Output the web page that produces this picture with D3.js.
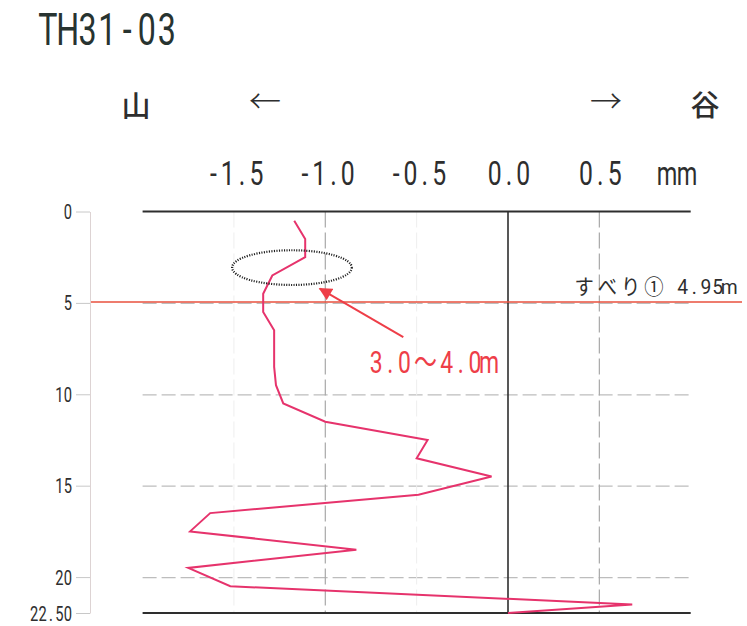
<!DOCTYPE html>
<html>
<head>
<meta charset="utf-8">
<script src="https://cdn.jsdelivr.net/npm/d3@7"></script>
<style>
  html, body { margin: 0; padding: 0; background: #fff; }
  svg { display: block; }
</style>
</head>
<body>
<svg id="chart" width="747" height="626"></svg>
<script>
// Borehole inclinometer: cumulative displacement (mm) versus depth (m)
const title = "TH31-03";
const depths = [0.5, 1.5, 2.5, 3.5, 4.5, 5.5, 6.5, 7.5, 8.5, 9.5, 10.5, 11.5,
                12.5, 13.5, 14.5, 15.5, 16.5, 17.5, 18.5, 19.5, 20.5, 21.5, 22.5];
const displacement = [-1.17, -1.11, -1.11, -1.29, -1.34, -1.34, -1.28, -1.28, -1.28, -1.27, -1.23, -1.00,
                      -0.44, -0.50, -0.09, -0.49, -1.63, -1.74, -0.83, -1.75, -1.52, 0.68, 0.00];
const xTicks = [-1.5, -1.0, -0.5, 0.0, 0.5];
const xTickLabels = ["-1.5", "-1.0", "-0.5", "0.0", "0.5"];
const xUnit = "mm";
const yTicks = [0, 5, 10, 15, 20, 22.5];
const yTickLabels = ["0", "5", "10", "15", "20", "22.50"];
const hGrid = [5, 10, 15, 20];
const vGridMain = [-1.0, 0.5];
const vGridFaint = [-1.5, -0.5];
const slipDepth = 4.95;
const slipLabel = "すべり① 4.95m";
const zoneLabel = "3.0～4.0m";
const zoneValue = [-1.51, -0.855];   // horizontal extent of the marked zone (mm)
const zoneDepth = [2.12, 4.02];      // vertical extent of the marked zone (m)
const sideLabels = ["山", "←", "→", "谷"];

const svg = d3.select("#chart");
svg.append("rect").attr("width", 747).attr("height", 626).attr("fill", "#fff");

const x = d3.scaleLinear().domain([-2, 1]).range([142.6, 690.7]);
const y = d3.scaleLinear().domain([0, 21.5, 22.5]).range([211.5, 604.5, 613]);

const SANS = "Roboto, 'Liberation Sans', 'Noto Sans CJK JP', sans-serif";
const CJK = "'Noto Sans CJK JP', 'Noto Sans', sans-serif";
const ink = "#2e2e2e";

// Fixed-pitch text: every character is centred in its own cell (full-width glyphs
// take two cells), with glyphs narrowed horizontally by sx for a condensed look.
function gridText(parent, str, o) {
  const sx = o.sx || 1;
  const chars = Array.from(str);
  const widths = chars.map(c => (c.codePointAt(0) > 0x2000 ? 2 : 1) * o.cell);
  const total = d3.sum(widths);
  const x0 = o.anchor === "middle" ? o.x - total / 2 : o.anchor === "end" ? o.x - total : o.x;
  let acc = 0;
  const xs = widths.map(w => { const c = acc + w / 2; acc += w; return (c / sx).toFixed(2); });
  return parent.append("text")
    .attr("transform", `translate(${x0},${o.y}) scale(${sx},1)`)
    .attr("x", xs.join(" ")).attr("y", 0)
    .attr("text-anchor", "middle")
    .attr("font-family", o.family || SANS).attr("font-size", o.size)
    .attr("font-weight", o.weight || 400)
    .attr("fill", o.fill || ink).text(str);
}

// title
gridText(svg, title, { x: 38, y: 45, cell: 19.8, size: 43.5, sx: 0.74, fill: "#273330" });

// direction labels
const sideX = [136, 265, 606, 705];
const sideY = [117, 113, 113, 116];
svg.append("g").selectAll("text").data(sideLabels).join("text")
  .attr("x", (d, i) => sideX[i]).attr("y", (d, i) => sideY[i])
  .attr("text-anchor", "middle")
  .attr("font-family", CJK)
  .attr("font-size", (d, i) => (i === 0 || i === 3) ? 29 : 32)
  .attr("font-weight", (d, i) => (i === 0 || i === 3) ? 500 : 300)
  .attr("fill", ink)
  .text(d => d);

// top value labels
const topLabels = svg.append("g");
xTicks.forEach((v, i) => gridText(topLabels, xTickLabels[i],
  { x: x(v) + 1, y: 185, cell: 14.3, size: 33.5, sx: 0.74, anchor: "middle" }));
gridText(topLabels, xUnit, { x: 657, y: 185, cell: 20, size: 33.5, sx: 0.7 });

// grid
const grid = svg.append("g");
grid.selectAll("line.h").data(hGrid).join("line").attr("class", "h")
  .attr("x1", x(-2)).attr("x2", x(1)).attr("y1", d => y(d) + 0.5).attr("y2", d => y(d) + 0.5)
  .attr("stroke", "#bdbdbd").attr("stroke-width", 1.2).attr("stroke-dasharray", "14,5");
grid.selectAll("line.vf").data(vGridFaint).join("line").attr("class", "vf")
  .attr("x1", d => x(d)).attr("x2", d => x(d)).attr("y1", y(0)).attr("y2", y(22.5))
  .attr("stroke", "#eeeeee").attr("stroke-width", 1).attr("stroke-dasharray", "16,5");
grid.selectAll("line.vm").data(vGridMain).join("line").attr("class", "vm")
  .attr("x1", d => x(d)).attr("x2", d => x(d)).attr("y1", y(0)).attr("y2", y(22.5))
  .attr("stroke", "#a8a8a8").attr("stroke-width", 1.2).attr("stroke-dasharray", "16,5");

// frame: top and bottom rules, zero line
svg.append("line").attr("x1", x(-2)).attr("x2", x(1)).attr("y1", y(0)).attr("y2", y(0))
  .attr("stroke", ink).attr("stroke-width", 2);
svg.append("line").attr("x1", x(-2)).attr("x2", x(1)).attr("y1", y(22.5)).attr("y2", y(22.5))
  .attr("stroke", ink).attr("stroke-width", 2);
svg.append("line").attr("x1", x(0)).attr("x2", x(0)).attr("y1", y(0)).attr("y2", y(22.5))
  .attr("stroke", ink).attr("stroke-width", 1.6);

// depth axis (labels drawn on the fixed-pitch grid)
const yAxis = svg.append("g").attr("transform", "translate(90,0)")
  .call(d3.axisLeft(y).tickValues(yTicks).tickFormat((d, i) => yTickLabels[i])
    .tickSize(14).tickSizeOuter(0).tickPadding(4));
yAxis.select(".domain").attr("stroke", "#ddd3d3").attr("stroke-width", 1);
yAxis.selectAll(".tick line").attr("stroke", "#c8c8c8");
yAxis.selectAll(".tick text").remove();
const yLab = svg.append("g");
yTicks.forEach((v, i) => gridText(yLab, yTickLabels[i],
  { x: 72, y: y(v) + 7.5, cell: 8.4, size: 21, sx: 0.7, anchor: "end" }));

// slip surface
svg.append("line").attr("x1", 91).attr("x2", 742).attr("y1", y(slipDepth)).attr("y2", y(slipDepth))
  .attr("stroke", "#e8503e").attr("stroke-width", 1.4);
gridText(svg, slipLabel, { x: 735, y: 294, cell: 11.6, size: 21, sx: 0.92, anchor: "end", family: SANS });

// displacement profile
const pts = depths.map((d, i) => ({ d, v: displacement[i] }));
svg.append("path").datum(pts)
  .attr("fill", "none").attr("stroke", "#e6336c").attr("stroke-width", 2)
  .attr("stroke-linejoin", "miter")
  .attr("d", d3.line().x(p => x(p.v)).y(p => y(p.d)));

// marked zone and its note
const cx = x((zoneValue[0] + zoneValue[1]) / 2), cy = y((zoneDepth[0] + zoneDepth[1]) / 2);
svg.append("ellipse").attr("cx", cx).attr("cy", cy)
  .attr("rx", (x(zoneValue[1]) - x(zoneValue[0])) / 2)
  .attr("ry", (y(zoneDepth[1]) - y(zoneDepth[0])) / 2)
  .attr("fill", "none").attr("stroke", "#1e1e1e").attr("stroke-width", 2.2)
  .attr("stroke-dasharray", "1.1,1.4");

svg.append("defs").append("marker").attr("id", "head")
  .attr("viewBox", "0 0 10 10").attr("refX", 9).attr("refY", 5)
  .attr("markerWidth", 7).attr("markerHeight", 6.5).attr("orient", "auto")
  .attr("markerUnits", "strokeWidth")
  .append("path").attr("d", "M0,0 L10,5 L0,10 Z").attr("fill", "#ee3e48");
svg.append("line")
  .attr("x1", x(-0.573)).attr("y1", y(6.87))
  .attr("x2", x(-1.03)).attr("y2", y(4.22))
  .attr("stroke", "#ee3e48").attr("stroke-width", 2)
  .attr("marker-end", "url(#head)");
gridText(svg, zoneLabel, { x: x(-0.76), y: y(8.85), cell: 14.1, size: 31, sx: 0.74, fill: "#ee3e48" });
</script>
</body>
</html>
